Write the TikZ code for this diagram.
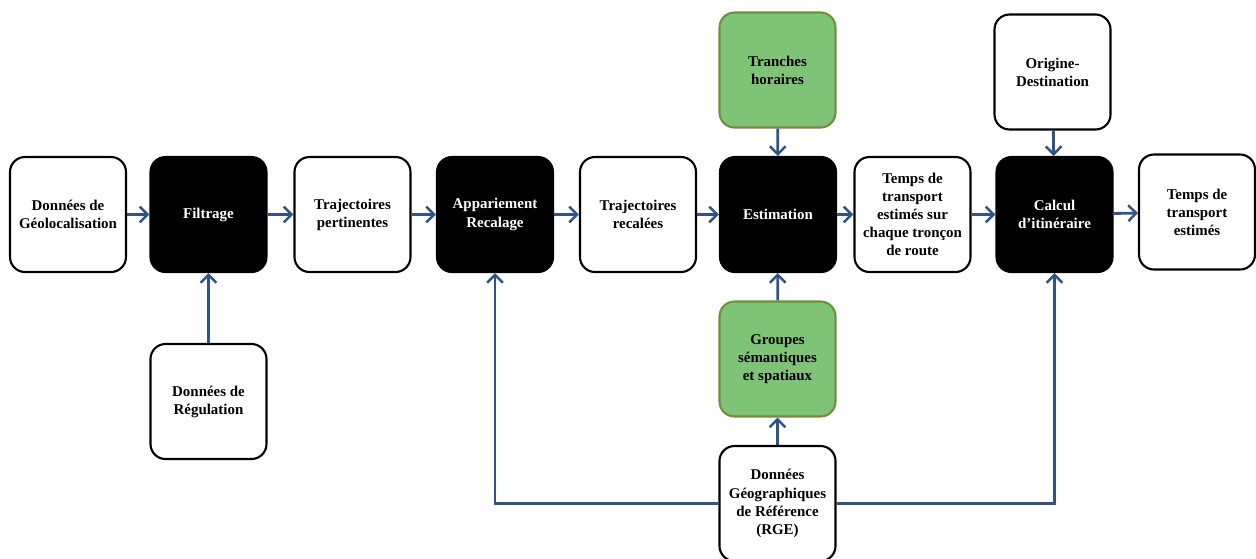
\documentclass[tikz,border=0pt]{standalone}
\usepackage{fontspec}
\setmainfont{Liberation Serif}
\usetikzlibrary{arrows.meta}
\definecolor{flowblue}{RGB}{46,84,138}
\definecolor{stepgreen}{RGB}{127,196,118}
\definecolor{stepgreenline}{RGB}{112,142,62}
\begin{document}
\begin{tikzpicture}[
		box/.style={rounded corners=0.3cm,minimum width=2.32cm,minimum height=2.3cm,align=center,font=\fontsize{8.5}{10.3}\selectfont\bfseries,inner sep=1pt},
		databox/.style={box,draw=black,line width=1.2pt,fill=white},
		procbox/.style={box,draw=black,line width=1.2pt,fill=black,text=white},
		groupbox/.style={box,draw=stepgreenline,line width=1.2pt,fill=stepgreen},
		flow/.style={draw=flowblue,line width=1.6pt,-{Straight Barb[length=4.5pt,width=9pt,line width=1.4pt]}}
	]
		\useasboundingbox (0,0) rectangle (25.12,-11.16);
		% main line
		\node[databox] (geo) at (1.36,-4.29) {Données de\\Géolocalisation};
		\node[procbox] (filtrage) at (4.17,-4.29) {Filtrage};
		\node[databox] (trajpert) at (7.05,-4.29) {Trajectoires\\pertinentes};
		\node[procbox] (apparie) at (9.90,-4.29) {Appariement\\Recalage};
		\node[databox] (trajrec) at (12.76,-4.29) {Trajectoires\\recalées};
		\node[procbox] (estim) at (15.56,-4.29) {Estimation};
		\node[databox] (tempstroncon) at (18.25,-4.29) {Temps de\\transport\\estimés sur\\chaque tronçon\\de route};
		\node[procbox] (calcul) at (21.09,-4.29) {Calcul\\d’itinéraire};
		\node[databox] (tempsfin) at (23.94,-4.24) {Temps de\\transport\\estimés};
		% side inputs
		\node[groupbox] (tranches) at (15.55,-1.40) {Tranches\\horaires};
		\node[databox] (origine) at (21.05,-1.44) {Origine-\\Destination};
		\node[databox] (regul) at (4.17,-8.03) {Données de\\Régulation};
		\node[groupbox] (groupes) at (15.55,-7.18) {Groupes\\sémantiques\\et spatiaux};
		\node[databox] (rge) at (15.55,-10.07) {Données\\Géographiques\\de Référence\\(RGE)};
		% connectors
		\draw[flow] (geo) -- (filtrage);
		\draw[flow] (filtrage) -- (trajpert);
		\draw[flow] (trajpert) -- (apparie);
		\draw[flow] (apparie) -- (trajrec);
		\draw[flow] (trajrec) -- (estim);
		\draw[flow] (estim) -- (tempstroncon);
		\draw[flow] (tempstroncon) -- (calcul);
		\draw[flow] (calcul) -- (tempsfin);
		\draw[flow] (tranches) -- (estim);
		\draw[flow] (origine) -- (calcul);
		\draw[flow] (regul) -- (filtrage);
		\draw[flow] (groupes) -- (estim);
		\draw[flow] (rge) -- (groupes);
		\draw[flow] (rge.west) -| (apparie.south);
		\draw[flow] (rge.east) -| (calcul.south);
	\end{tikzpicture}
\end{document}
